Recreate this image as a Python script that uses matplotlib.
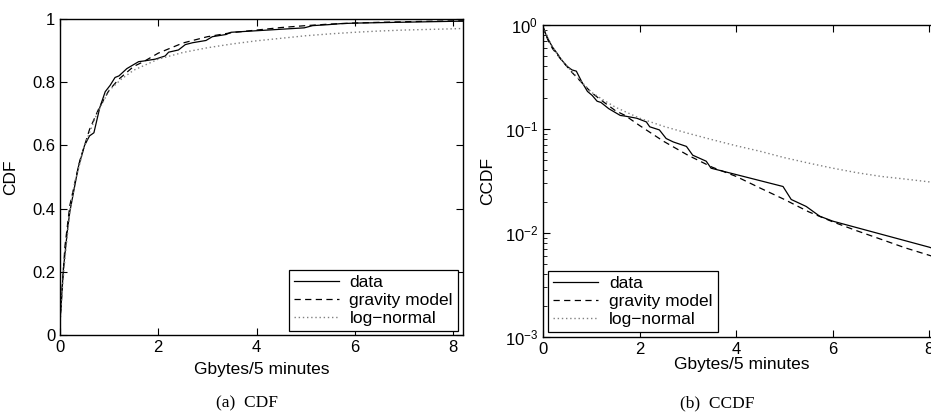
import numpy as np
import matplotlib
matplotlib.use('Agg')
import matplotlib.pyplot as plt

plt.rcParams['font.family'] = ['Liberation Sans', 'DejaVu Sans']
plt.rcParams['mathtext.default'] = 'regular'

# CCDF (the CDF panel is 1 - CCDF)
x_data = [0, 0.07, 0.15, 0.2, 0.31, 0.37, 0.5, 0.6, 0.69, 0.81, 0.92, 1.02, 1.12, 1.2,
          1.36, 1.6, 1.7, 1.94, 2.14, 2.21, 2.41, 2.55, 2.7, 2.97, 3.1, 3.38, 3.48,
          4.97, 5.14, 5.45, 5.73, 6.0, 8.0, 8.2]
ccdf_data = [0.96, 0.79, 0.67, 0.61, 0.52, 0.47, 0.40, 0.37, 0.36, 0.28, 0.23, 0.21, 0.185, 0.18,
             0.157, 0.135, 0.133, 0.127, 0.117, 0.105, 0.098, 0.081, 0.075, 0.068, 0.056, 0.049, 0.042,
             0.028, 0.021, 0.018, 0.0145, 0.013, 0.0073, 0.0068]

x_grav = [0, 0.1, 0.2, 0.4, 0.6, 0.8, 1.0, 1.2, 1.5, 1.7, 2.0, 2.5, 3.0, 3.5, 4.0,
          4.5, 5.0, 5.5, 6.0, 6.5, 7.0, 7.5, 8.0, 8.2]
ccdf_grav = [0.96, 0.72, 0.59, 0.45, 0.35, 0.28, 0.225, 0.19, 0.15, 0.135, 0.108, 0.076, 0.056, 0.043, 0.035,
             0.027, 0.021, 0.016, 0.0128, 0.0105, 0.0087, 0.0072, 0.0061, 0.0057]

x_logn = [0, 0.05, 0.1, 0.2, 0.3, 0.5, 0.75, 1.0, 1.25, 1.5, 2.0, 2.5, 3.0, 3.5, 4.0,
          4.5, 5.0, 5.5, 6.0, 6.5, 7.0, 7.5, 8.0, 8.2]
ccdf_logn = [0.97, 0.85, 0.76, 0.61, 0.52, 0.40, 0.30, 0.226, 0.19, 0.162, 0.127, 0.106, 0.091, 0.079, 0.069,
             0.061, 0.053, 0.047, 0.042, 0.038, 0.035, 0.033, 0.031, 0.030]

series = [
    ('data', x_data, ccdf_data, dict(color='black', linestyle='-', linewidth=0.9)),
    ('gravity model', x_grav, ccdf_grav, dict(color='black', linestyle=(0, (5, 3.5)), linewidth=0.9)),
    ('log\u2212normal', x_logn, ccdf_logn, dict(color='#808080', linestyle=(0, (1, 2)), linewidth=1.0)),
]

fig = plt.figure(figsize=(9.31, 4.12), dpi=100)
ax1 = fig.add_axes([60 / 931, 77 / 412, 403 / 931, 316 / 412])
ax2 = fig.add_axes([543 / 931, 75 / 412, 396 / 931, 312 / 412])

for nome, xs, ys, estilo in series:
    ax1.plot(xs, 1 - np.array(ys), label=nome, **estilo)
    ax2.plot(xs, ys, label=nome, **estilo)

ax1.set_xlim(0, 8.2)
ax1.set_ylim(0, 1)
ax1.set_xticks([0, 2, 4, 6, 8])
ax1.set_yticks([0, 0.2, 0.4, 0.6, 0.8, 1])
ax1.set_yticklabels(['0', '0.2', '0.4', '0.6', '0.8', '1'])
ax1.set_ylabel('CDF', fontsize=12.5)
ax1.set_xlabel('Gbytes/5 minutes', fontsize=12.5)
ax1.yaxis.set_label_coords(-0.104, 0.5)
ax1.xaxis.set_label_coords(0.5, -0.084)

ax2.set_yscale('log')
ax2.set_xlim(0, 8.2)
ax2.set_ylim(1e-3, 1)
ax2.set_xticks([0, 2, 4, 6, 8])
ax2.set_ylabel('CCDF', fontsize=12.5)
ax2.set_xlabel('Gbytes/5 minutes', fontsize=12.5)
ax2.yaxis.set_label_coords(-0.121, 0.5)
ax2.xaxis.set_label_coords(0.502, -0.064)

for ax in (ax1, ax2):
    ax.tick_params(which='both', direction='in', top=True, right=True, labelsize=12)
    ax.tick_params(which='major', length=5, width=0.8)
    ax.tick_params(which='minor', length=3, width=0.6)
    for s in ax.spines.values():
        s.set_linewidth(1.0)

leg_opts = dict(fontsize=12.5, fancybox=False, edgecolor='black', framealpha=1,
                borderaxespad=0, handlelength=2.6, handletextpad=0.6,
                labelspacing=0.15, borderpad=0.3)
l1 = ax1.legend(loc='lower right', bbox_to_anchor=(0.988, 0.013), **leg_opts)
l2 = ax2.legend(loc='lower left', bbox_to_anchor=(0.013, 0.016), **leg_opts)
for l in (l1, l2):
    l.get_frame().set_linewidth(0.9)

fig.text(247 / 931, 0.02, '(a)  CDF', ha='center', va='center',
         family='Liberation Serif', fontsize=12.5)
fig.text(717 / 931, 0.02, '(b)  CCDF', ha='center', va='center',
         family='Liberation Serif', fontsize=12.5)

fig.savefig('out.png', dpi=100)
